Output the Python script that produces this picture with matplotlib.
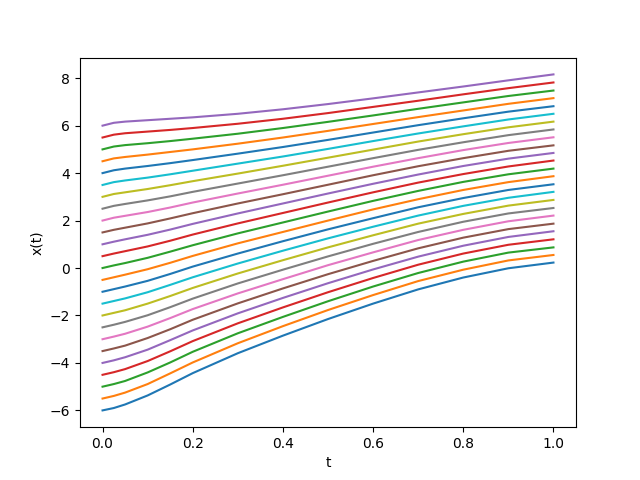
import matplotlib
matplotlib.use("Agg")
import matplotlib.pyplot as plt

# time grid (denser near t=0 where the curves bend)
t = [0, 0.025, 0.05, 0.1, 0.15, 0.2, 0.3, 0.4, 0.5, 0.6, 0.7, 0.8, 0.9, 1.0]

# starting values x(0)
x0 = [-6.0, -5.5, -5.0, -4.5, -4.0, -3.5, -3.0, -2.5, -2.0, -1.5, -1.0, -0.5,
      0.0, 0.5, 1.0, 1.5, 2.0, 2.5, 3.0, 3.5, 4.0, 4.5, 5.0, 5.5, 6.0]

# x(t), one row per starting value
paths = [
    [-6.00, -5.90, -5.75, -5.37, -4.91, -4.43, -3.59, -2.85, -2.15, -1.50, -0.90, -0.40, -0.01, 0.23],
    [-5.50, -5.39, -5.25, -4.89, -4.44, -3.98, -3.17, -2.45, -1.77, -1.14, -0.55, -0.07, 0.32, 0.55],
    [-5.00, -4.89, -4.76, -4.40, -3.98, -3.53, -2.75, -2.06, -1.40, -0.78, -0.21, 0.27, 0.65, 0.87],
    [-4.50, -4.39, -4.26, -3.92, -3.51, -3.08, -2.33, -1.66, -1.02, -0.42, 0.14, 0.61, 0.98, 1.21],
    [-4.00, -3.89, -3.76, -3.44, -3.04, -2.63, -1.91, -1.26, -0.64, -0.06, 0.48, 0.94, 1.31, 1.55],
    [-3.50, -3.39, -3.27, -2.95, -2.58, -2.18, -1.49, -0.86, -0.26, 0.30, 0.83, 1.28, 1.64, 1.87],
    [-3.00, -2.89, -2.77, -2.47, -2.11, -1.73, -1.07, -0.47, 0.12, 0.66, 1.18, 1.61, 1.97, 2.21],
    [-2.50, -2.39, -2.27, -1.99, -1.65, -1.29, -0.65, -0.07, 0.49, 1.02, 1.52, 1.95, 2.30, 2.53],
    [-2.00, -1.89, -1.78, -1.50, -1.18, -0.84, -0.23, 0.33, 0.87, 1.38, 1.87, 2.28, 2.63, 2.87],
    [-1.50, -1.39, -1.28, -1.02, -0.71, -0.39, 0.19, 0.73, 1.25, 1.74, 2.21, 2.62, 2.96, 3.21],
    [-1.00, -0.89, -0.78, -0.54, -0.25, 0.06, 0.61, 1.13, 1.63, 2.10, 2.56, 2.95, 3.29, 3.53],
    [-0.50, -0.39, -0.28, -0.05, 0.22, 0.51, 1.04, 1.52, 2.00, 2.47, 2.90, 3.29, 3.62, 3.87],
    [0.00, 0.11, 0.21, 0.43, 0.69, 0.96, 1.46, 1.92, 2.38, 2.83, 3.25, 3.63, 3.95, 4.19],
    [0.50, 0.61, 0.71, 0.91, 1.15, 1.41, 1.88, 2.32, 2.76, 3.19, 3.60, 3.96, 4.28, 4.53],
    [1.00, 1.11, 1.21, 1.40, 1.62, 1.86, 2.30, 2.72, 3.14, 3.55, 3.94, 4.30, 4.61, 4.85],
    [1.50, 1.61, 1.70, 1.88, 2.09, 2.31, 2.72, 3.11, 3.51, 3.91, 4.29, 4.63, 4.94, 5.17],
    [2.00, 2.12, 2.20, 2.36, 2.55, 2.76, 3.14, 3.51, 3.89, 4.27, 4.63, 4.97, 5.27, 5.51],
    [2.50, 2.62, 2.70, 2.85, 3.02, 3.21, 3.56, 3.91, 4.27, 4.63, 4.98, 5.30, 5.60, 5.84],
    [3.00, 3.12, 3.19, 3.33, 3.49, 3.66, 3.98, 4.31, 4.65, 4.99, 5.33, 5.64, 5.93, 6.17],
    [3.50, 3.62, 3.69, 3.81, 3.95, 4.10, 4.40, 4.70, 5.02, 5.35, 5.67, 5.97, 6.26, 6.50],
    [4.00, 4.12, 4.19, 4.30, 4.42, 4.55, 4.82, 5.10, 5.40, 5.71, 6.02, 6.31, 6.59, 6.82],
    [4.50, 4.62, 4.68, 4.78, 4.89, 5.00, 5.24, 5.50, 5.78, 6.07, 6.36, 6.64, 6.92, 7.16],
    [5.00, 5.12, 5.18, 5.26, 5.35, 5.45, 5.66, 5.90, 6.16, 6.43, 6.71, 6.98, 7.25, 7.48],
    [5.50, 5.62, 5.68, 5.75, 5.82, 5.90, 6.08, 6.29, 6.53, 6.79, 7.05, 7.32, 7.58, 7.82],
    [6.00, 6.12, 6.17, 6.23, 6.29, 6.35, 6.50, 6.69, 6.91, 7.15, 7.40, 7.65, 7.91, 8.16],
]

fig, ax = plt.subplots(figsize=(6.4, 4.8), dpi=100)

# one line per starting value, default colour cycle
for start, xs in zip(x0, paths):
    ax.plot(t, xs, label=f"x0={start}")

ax.set_xlabel("t")
ax.set_ylabel("x(t)")

plt.savefig("out.png")
plt.close()
